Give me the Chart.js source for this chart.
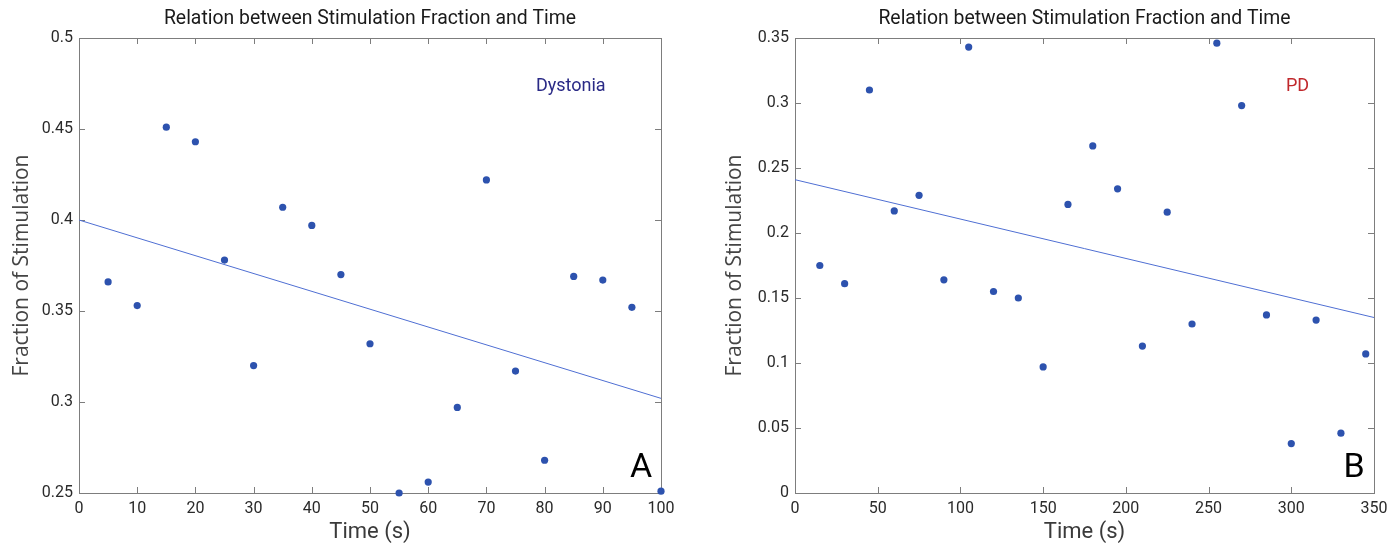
<!DOCTYPE html>
<html>
<head>
<meta charset="utf-8">
<script src="https://cdn.jsdelivr.net/npm/chart.js@4.4.0/dist/chart.umd.min.js"></script>
<style>
  body { margin: 0; background: #fff; width: 1395px; height: 547px; overflow: hidden; position: relative; }
  .caja { position: absolute; top: 0; height: 547px; }
</style>
</head>
<body>
<div class="caja" style="left:0;width:700px"><canvas id="graficaA"></canvas></div>
<div class="caja" style="left:700px;width:695px"><canvas id="graficaB"></canvas></div>
<script>
// Panel A - Dystonia
const tiempoA = [5, 10, 15, 20, 25, 30, 35, 40, 45, 50, 55, 60, 65, 70, 75, 80, 85, 90, 95, 100];
const fraccionA = [0.366, 0.353, 0.451, 0.443, 0.378, 0.320, 0.407, 0.397, 0.370, 0.332,
                   0.250, 0.256, 0.297, 0.422, 0.317, 0.268, 0.369, 0.367, 0.352, 0.251];
const rectaTiempoA = [0, 100];
const rectaFraccionA = [0.400, 0.302];
const ticksXA = [0, 10, 20, 30, 40, 50, 60, 70, 80, 90, 100];
const ticksYA = [0.25, 0.3, 0.35, 0.4, 0.45, 0.5];

// Panel B - PD
const tiempoB = [15, 30, 45, 60, 75, 90, 105, 120, 135, 150, 165, 180, 195, 210, 225, 240, 255, 270, 285, 300, 315, 330, 345];
const fraccionB = [0.175, 0.161, 0.310, 0.217, 0.229, 0.164, 0.343, 0.155, 0.150, 0.097, 0.222, 0.267,
                   0.234, 0.113, 0.216, 0.130, 0.346, 0.298, 0.137, 0.038, 0.133, 0.046, 0.107];
const rectaTiempoB = [0, 350];
const rectaFraccionB = [0.241, 0.135];
const ticksXB = [0, 50, 100, 150, 200, 250, 300, 350];
const ticksYB = [0, 0.05, 0.1, 0.15, 0.2, 0.25, 0.3, 0.35];

const fuenteEstrecha = "'Liberation Sans Narrow', 'Roboto', sans-serif";

// caja y marcas hacia dentro al estilo MATLAB
const marcoMatlab = {
  id: 'marcoMatlab',
  beforeDatasetsDraw(chart) {
    const { ctx, chartArea: a, scales: { x, y } } = chart;
    ctx.save();
    ctx.strokeStyle = '#7d7d7d';
    ctx.lineWidth = 1;
    ctx.strokeRect(Math.round(a.left) + 0.5, Math.round(a.top) + 0.5, Math.round(a.width), Math.round(a.height));
    ctx.beginPath();
    x.ticks.forEach(t => {
      const px = Math.round(x.getPixelForValue(t.value)) + 0.5;
      ctx.moveTo(px, a.bottom); ctx.lineTo(px, a.bottom - 6);
      ctx.moveTo(px, a.top); ctx.lineTo(px, a.top + 6);
    });
    y.ticks.forEach(t => {
      const py = Math.round(y.getPixelForValue(t.value)) + 0.5;
      ctx.moveTo(a.left, py); ctx.lineTo(a.left + 6, py);
      ctx.moveTo(a.right, py); ctx.lineTo(a.right - 6, py);
    });
    ctx.stroke();
    ctx.restore();
  },
  afterDraw(chart, args, opts) {
    const { ctx, chartArea: a } = chart;
    ctx.save();
    ctx.textAlign = 'center';
    ctx.textBaseline = 'middle';
    ctx.fillStyle = '#1a1a1a';
    ctx.font = '20px ' + fuenteEstrecha;
    // el titulo original es una fuente estrecha: se comprime un poco en horizontal
    ctx.translate((a.left + a.right) / 2, a.top - 19);
    ctx.scale(0.97, 1);
    ctx.fillText('Relation between Stimulation Fraction and Time', 0, 0);
    ctx.setTransform(1, 0, 0, 1, 0, 0);
    ctx.fillStyle = opts.colorEtiqueta;
    ctx.font = '18px ' + fuenteEstrecha;
    ctx.fillText(opts.etiqueta, a.left + a.width * opts.posEtiqueta, a.top + 48);
    ctx.fillStyle = '#000';
    ctx.font = '34px ' + fuenteEstrecha;
    ctx.fillText(opts.letra, a.right - 20, a.bottom - 25);
    ctx.restore();
  }
};

function crearGrafica(id, tiempos, fracciones, rx, ry, tx, ty, opts) {
  const puntos = tiempos.map((t, i) => ({ x: t, y: fracciones[i] }));
  const recta = rx.map((t, i) => ({ x: t, y: ry[i] }));
  return new Chart(document.getElementById(id), {
    type: 'scatter',
    data: {
      datasets: [
        {
          type: 'line',
          data: recta,
          borderColor: '#4f6fd3',
          borderWidth: 1,
          pointRadius: 0,
          fill: false
        },
        {
          data: puntos,
          backgroundColor: '#2d52ae',
          borderWidth: 0,
          pointRadius: 3.6,
          clip: 6
        }
      ]
    },
    plugins: [marcoMatlab],
    options: {
      responsive: true,
      maintainAspectRatio: false,
      animation: false,
      layout: { padding: { top: 38, right: opts.derecha, bottom: 0, left: 0 } },
      plugins: {
        legend: { display: false },
        tooltip: { enabled: false },
        marcoMatlab: opts
      },
      scales: {
        x: {
          type: 'linear',
          min: tx[0],
          max: tx[tx.length - 1],
          afterBuildTicks: s => { s.ticks = tx.map(v => ({ value: v })); },
          afterFit: s => { s.height = 54; },
          grid: { display: false, drawTicks: false },
          border: { display: false },
          ticks: {
            color: '#2a2a2a',
            padding: 6,
            maxRotation: 0,
            font: { family: fuenteEstrecha, size: 16 },
            callback: v => String(+v.toFixed(2))
          },
          title: {
            display: true,
            text: 'Time (s)',
            color: '#3a3a3a',
            padding: { top: 0, bottom: 1 },
            font: { family: fuenteEstrecha, size: 22 }
          }
        },
        y: {
          min: ty[0],
          max: ty[ty.length - 1],
          afterBuildTicks: s => { s.ticks = ty.map(v => ({ value: v })); },
          afterFit: s => { s.width = opts.anchoY; },
          grid: { display: false, drawTicks: false },
          border: { display: false },
          ticks: {
            color: '#2a2a2a',
            padding: 6,
            font: { family: fuenteEstrecha, size: 16 },
            callback: v => String(+v.toFixed(2))
          },
          title: {
            display: true,
            text: 'Fraction of Stimulation',
            color: '#444',
            padding: { top: opts.padTituloY, bottom: 0 },
            font: { family: "'Open Sans', sans-serif", size: 21 }
          }
        }
      }
    }
  });
}

crearGrafica('graficaA', tiempoA, fraccionA, rectaTiempoA, rectaFraccionA, ticksXA, ticksYA,
  { anchoY: 79, derecha: 39, padTituloY: 9, etiqueta: 'Dystonia', colorEtiqueta: '#2a2a86', posEtiqueta: 0.845, letra: 'A' });
crearGrafica('graficaB', tiempoB, fraccionB, rectaTiempoB, rectaFraccionB, ticksXB, ticksYB,
  { anchoY: 95, derecha: 21, padTituloY: 22, etiqueta: 'PD', colorEtiqueta: '#c0282c', posEtiqueta: 0.868, letra: 'B' });
</script>
</body>
</html>
